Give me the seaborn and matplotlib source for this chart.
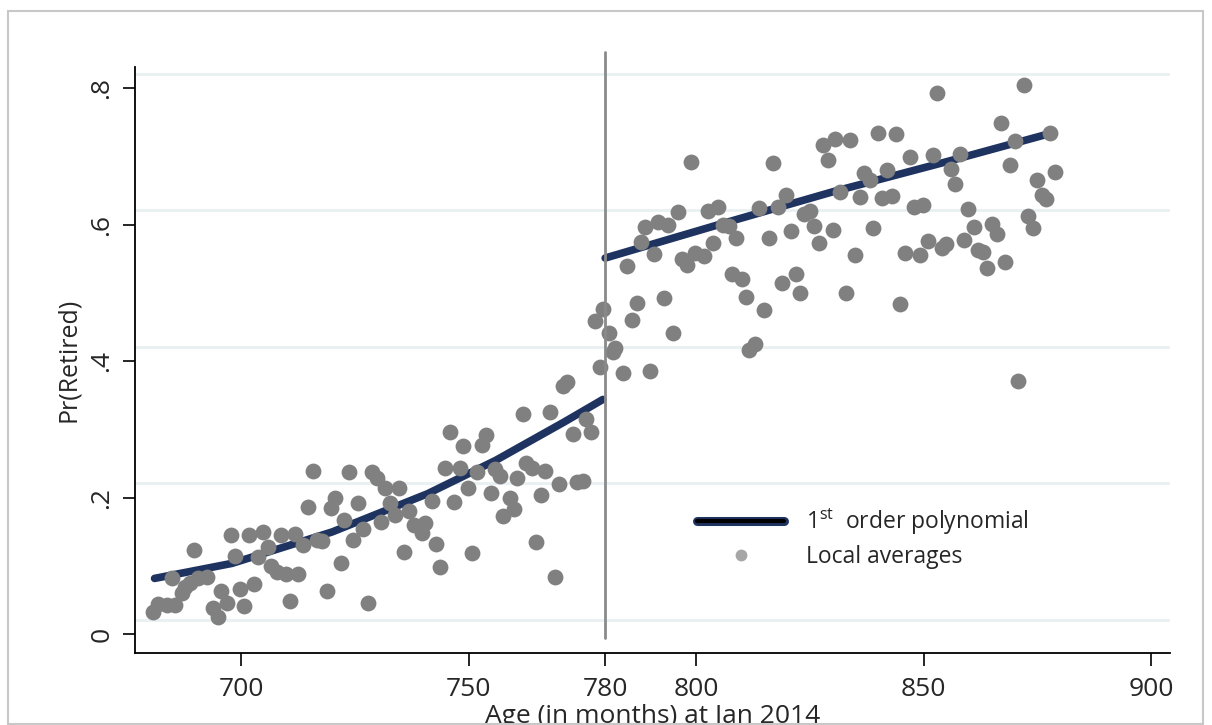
import matplotlib
matplotlib.use('Agg')
import matplotlib.pyplot as plt
import matplotlib.patheffects as pe
from matplotlib.lines import Line2D
from matplotlib.patches import Rectangle
import pandas as pd
import seaborn as sns

# local averages, left of the cutoff
age_left = [680.7, 681.8, 683.7, 685.5, 684.8, 687.0, 687.7, 688.8, 689.7, 690.6,
            692.5, 693.9, 694.9, 695.6, 696.9, 697.8, 698.7, 699.8, 700.7, 701.8,
            702.9, 703.7, 704.8, 705.9, 706.6, 707.8, 708.8, 709.8, 710.8, 711.9,
            712.6, 713.7, 714.8, 715.7, 716.6, 717.7, 718.8, 719.8, 720.7, 721.9,
            722.7, 723.7, 724.7, 725.6, 726.7, 727.8, 728.7, 729.8, 730.8, 731.6,
            732.7, 733.8, 734.8, 735.7, 736.8, 737.9, 739.7, 740.4, 741.9, 742.8,
            743.7, 744.8, 745.8, 746.7, 748.0, 748.7, 749.8, 750.8, 751.8, 752.9,
            753.8, 754.9, 755.8, 756.9, 757.6, 759.0, 760.0, 760.7, 761.9, 762.6,
            763.9, 764.8, 765.9, 766.8, 767.8, 768.9, 769.9, 770.8, 771.7, 772.9,
            773.8, 775.1, 775.8, 776.9, 777.8, 778.9, 779.6]
pr_left = [0.033, 0.045, 0.043, 0.043, 0.083, 0.060, 0.070, 0.075, 0.124, 0.082,
           0.084, 0.038, 0.025, 0.064, 0.046, 0.145, 0.115, 0.066, 0.042, 0.146,
           0.074, 0.114, 0.150, 0.128, 0.100, 0.092, 0.146, 0.088, 0.049, 0.147,
           0.089, 0.131, 0.187, 0.239, 0.138, 0.137, 0.064, 0.185, 0.200, 0.104,
           0.167, 0.238, 0.138, 0.192, 0.155, 0.046, 0.238, 0.229, 0.165, 0.214,
           0.192, 0.175, 0.214, 0.120, 0.180, 0.160, 0.148, 0.163, 0.196, 0.132,
           0.098, 0.243, 0.296, 0.194, 0.243, 0.276, 0.214, 0.119, 0.238, 0.277,
           0.292, 0.207, 0.242, 0.232, 0.173, 0.199, 0.183, 0.229, 0.323, 0.251,
           0.243, 0.136, 0.204, 0.239, 0.325, 0.084, 0.220, 0.364, 0.370, 0.293,
           0.223, 0.224, 0.315, 0.297, 0.459, 0.392, 0.477]

# local averages, right of the cutoff
age_right = [780.9, 781.7, 782.2, 783.9, 784.8, 785.9, 787.0, 787.8, 788.8, 789.9,
             790.8, 791.7, 793.0, 793.9, 794.8, 795.9, 796.8, 797.9, 798.8, 799.8,
             801.8, 802.7, 803.8, 804.9, 805.9, 807.3, 807.8, 808.8, 810.0, 810.9,
             811.7, 813.0, 813.8, 814.8, 815.9, 816.8, 818.0, 818.8, 819.8, 820.8,
             822.0, 822.9, 823.7, 825.1, 825.8, 826.9, 827.8, 828.9, 830.0, 830.6,
             831.5, 832.9, 833.8, 834.9, 835.9, 836.8, 838.1, 838.8, 839.9, 840.8,
             841.9, 843.0, 843.9, 844.8, 845.8, 847.0, 847.9, 849.1, 849.9, 850.9,
             852.0, 852.9, 854.0, 854.9, 856.0, 856.8, 858.0, 858.9, 859.8, 861.0,
             861.9, 863.0, 863.9, 865.0, 866.0, 867.0, 867.9, 869.0, 870.0, 870.8,
             872.1, 872.9, 873.9, 874.9, 876.0, 876.9, 877.8, 878.9]
pr_right = [0.442, 0.414, 0.420, 0.382, 0.539, 0.461, 0.485, 0.575, 0.597, 0.386,
            0.557, 0.604, 0.493, 0.600, 0.442, 0.618, 0.549, 0.541, 0.692, 0.558,
            0.554, 0.620, 0.573, 0.626, 0.599, 0.598, 0.528, 0.581, 0.521, 0.494,
            0.417, 0.425, 0.624, 0.475, 0.581, 0.690, 0.626, 0.515, 0.644, 0.590,
            0.527, 0.500, 0.616, 0.620, 0.598, 0.573, 0.717, 0.694, 0.592, 0.726,
            0.648, 0.500, 0.724, 0.555, 0.641, 0.675, 0.665, 0.595, 0.734, 0.639,
            0.680, 0.642, 0.733, 0.484, 0.559, 0.699, 0.626, 0.555, 0.629, 0.576,
            0.702, 0.793, 0.565, 0.572, 0.681, 0.660, 0.704, 0.578, 0.623, 0.596,
            0.563, 0.560, 0.536, 0.601, 0.586, 0.749, 0.545, 0.687, 0.723, 0.371,
            0.804, 0.612, 0.595, 0.666, 0.643, 0.638, 0.734, 0.677]

# fitted curves
fit_left_age = [681.0, 698.0, 720.0, 741.0, 756.0, 771.0, 779.5]
fit_left_pr = [0.082, 0.104, 0.150, 0.206, 0.255, 0.311, 0.344]
fit_right_age = [780.0, 805.0, 830.0, 855.0, 877.0]
fit_right_pr = [0.551, 0.600, 0.648, 0.692, 0.732]

cutoff = 780
x_ticks = [700, 750, 780, 800, 850, 900]
y_ticks = [0, 0.2, 0.4, 0.6, 0.8]
y_tick_labels = ['0', '.2', '.4', '.6', '.8']
grid_levels = [0.021, 0.221, 0.421, 0.621, 0.821]

sns.set_theme(style='white')
plt.rcParams['font.family'] = ['Open Sans', 'DejaVu Sans']
plt.rcParams['mathtext.fontset'] = 'custom'
plt.rcParams['mathtext.rm'] = 'Open Sans'

pts = pd.DataFrame({'age': age_left + age_right, 'pr': pr_left + pr_right})
fl = pd.DataFrame({'age': fit_left_age, 'pr': fit_left_pr})
fr = pd.DataFrame({'age': fit_right_age, 'pr': fit_right_pr})

fig = plt.figure(figsize=(12.12, 7.25), dpi=100)
ax = fig.add_axes([135 / 1212, 72 / 725, 1035 / 1212, 586 / 725])

for g in grid_levels:
    ax.axhline(g, color='#e9f0f2', lw=2, zorder=0)

navy = '#1f3360'
sns.lineplot(data=fl, x='age', y='pr', color=navy, lw=5.5, ax=ax, zorder=2)
sns.lineplot(data=fr, x='age', y='pr', color=navy, lw=5.5, ax=ax, zorder=2)
sns.scatterplot(data=pts, x='age', y='pr', color='#808080', s=130,
                linewidth=0, ax=ax, zorder=3)
ax.axvline(cutoff, ymin=0.0256, ymax=1.0256, color='#8a8a8a', lw=2,
           clip_on=False, zorder=4)

ax.set_xlim(676.7, 904.1)
ax.set_ylim(-0.0272, 0.8307)
ax.set_xticks(x_ticks)
ax.set_xticklabels([str(t) for t in x_ticks], fontsize=19)
ax.set_yticks(y_ticks)
ax.set_yticklabels(y_tick_labels, fontsize=19, rotation=90, va='center')
ax.tick_params(axis='both', direction='out', length=9, width=1.2, color='black',
               left=True, bottom=True)
ax.tick_params(axis='x', pad=8)
ax.tick_params(axis='y', pad=6)
for s in ['top', 'right']:
    ax.spines[s].set_visible(False)
for s in ['left', 'bottom']:
    ax.spines[s].set_color('black')
    ax.spines[s].set_linewidth(1.3)

# x title sits at the bottom edge, partly cut off as in the original
ax.set_xlabel('Age (in months) at Jan 2014', fontsize=19)
ax.xaxis.label.set_va('baseline')
ax.xaxis.set_label_coords(0.5, -0.1195)
ax.set_ylabel('Pr(Retired)', fontsize=18)
ax.yaxis.label.set_va('center')
ax.yaxis.set_label_coords(-0.0647, 0.5)

h_line = Line2D([], [], color='black', lw=3,
                path_effects=[pe.Stroke(linewidth=6.5, foreground=navy), pe.Normal()])
h_dot = Line2D([], [], ls='none', marker='o', markersize=8.5, color='#a6a6a6',
               markeredgewidth=0)
ax.legend([h_line, h_dot], ['1$^{\\mathrm{st}}$  order polynomial', 'Local averages'],
          loc='upper left', bbox_to_anchor=(697 / 1212, 1 - 507 / 725),
          bbox_transform=fig.transFigure, frameon=False, fontsize=16.5,
          handlelength=3.8, handletextpad=0.95, borderpad=0, borderaxespad=0,
          labelspacing=0.35)

fig.patches.append(Rectangle((8 / 1212, 1 / 725), 1195 / 1212, 713 / 725,
                             transform=fig.transFigure, fill=False,
                             edgecolor='#c8c8c8', lw=1.5))

fig.savefig('out.png', dpi=100)
